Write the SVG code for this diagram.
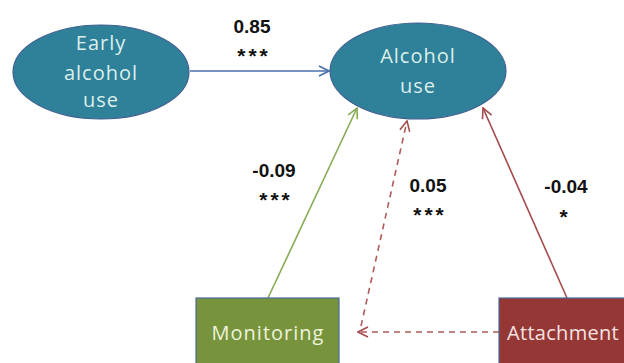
<svg xmlns="http://www.w3.org/2000/svg" width="624" height="363" viewBox="0 0 624 363">
<defs>
<style>
.node-text{font-family:"Open Sans","Liberation Sans",sans-serif;font-size:20px;letter-spacing:1px;text-anchor:middle}
.ell{fill:#2f8099;stroke:#3f5f8f;stroke-width:1.2}
.lbl{font-family:"Liberation Sans",Arial,sans-serif;font-size:19px;font-weight:bold;fill:#111;text-anchor:middle}
.stars{font-family:"Liberation Sans",Arial,sans-serif;font-size:21px;font-weight:bold;fill:#111;text-anchor:middle;letter-spacing:3px}
.conn{fill:none;stroke-width:1.6}
</style>
<marker id="aBlue" viewBox="0 0 12 12" refX="11" refY="6" markerWidth="12" markerHeight="12" markerUnits="userSpaceOnUse" orient="auto">
<path d="M1,1 L11,6 L1,11" fill="none" stroke="#4a6fae" stroke-width="1.6"/>
</marker>
<marker id="aGreen" viewBox="0 0 12 12" refX="11" refY="6" markerWidth="12" markerHeight="12" markerUnits="userSpaceOnUse" orient="auto">
<path d="M1,1 L11,6 L1,11" fill="none" stroke="#86aa55" stroke-width="1.6"/>
</marker>
<marker id="aRed" viewBox="0 0 12 12" refX="11" refY="6" markerWidth="12" markerHeight="12" markerUnits="userSpaceOnUse" orient="auto">
<path d="M1,1 L11,6 L1,11" fill="none" stroke="#a54b4b" stroke-width="1.6"/>
</marker>
</defs>
<rect width="624" height="363" fill="#ffffff"/>

<g id="connectors">
<path class="conn" d="M190,71 L329,71" stroke="#4a6fae" marker-end="url(#aBlue)"/>
<path class="conn" d="M268,298 L357,108" stroke="#86aa55" marker-end="url(#aGreen)"/>
<path class="conn" d="M567,298 L483,108" stroke="#a54b4b" marker-end="url(#aRed)"/>
<path class="conn" d="M499,332 L358,332" stroke="#b05a5a" stroke-dasharray="6,5" marker-end="url(#aRed)"/>
<path class="conn" d="M361,326 L407,121" stroke="#b05a5a" stroke-dasharray="6,5" marker-end="url(#aRed)"/>
</g>

<g id="labels">
<text class="lbl" x="252" y="33">0.85</text>
<text class="stars" x="254" y="63">***</text>
<text class="lbl" x="274" y="177">-0.09</text>
<text class="stars" x="276" y="207">***</text>
<text class="lbl" x="428" y="192">0.05</text>
<text class="stars" x="430" y="222">***</text>
<text class="lbl" x="566" y="193">-0.04</text>
<text class="stars" x="565" y="224">*</text>
</g>

<g id="early-alcohol-use">
<ellipse class="ell" cx="101" cy="72" rx="88" ry="47"/>
<text class="node-text" fill="#dcefec" x="101" y="50">Early</text>
<text class="node-text" fill="#dcefec" x="101" y="80">alcohol</text>
<text class="node-text" fill="#dcefec" x="101" y="107">use</text>
</g>

<g id="alcohol-use">
<ellipse class="ell" cx="418" cy="71" rx="88" ry="48"/>
<text class="node-text" fill="#dcefec" x="418" y="63">Alcohol</text>
<text class="node-text" fill="#dcefec" x="418" y="93">use</text>
</g>

<g id="monitoring">
<rect x="196" y="298" width="143" height="80" fill="#77933c" stroke="#4a6a9a" stroke-width="1.2"/>
<text class="node-text" fill="#eef3dc" x="268" y="340">Monitoring</text>
</g>

<g id="attachment">
<rect x="499" y="298" width="140" height="80" fill="#953735" stroke="#4a6a9a" stroke-width="1.2"/>
<text class="node-text" fill="#f5e3e3" x="507" y="340" style="text-anchor:start;letter-spacing:0.3px">Attachment</text>
</g>
</svg>
